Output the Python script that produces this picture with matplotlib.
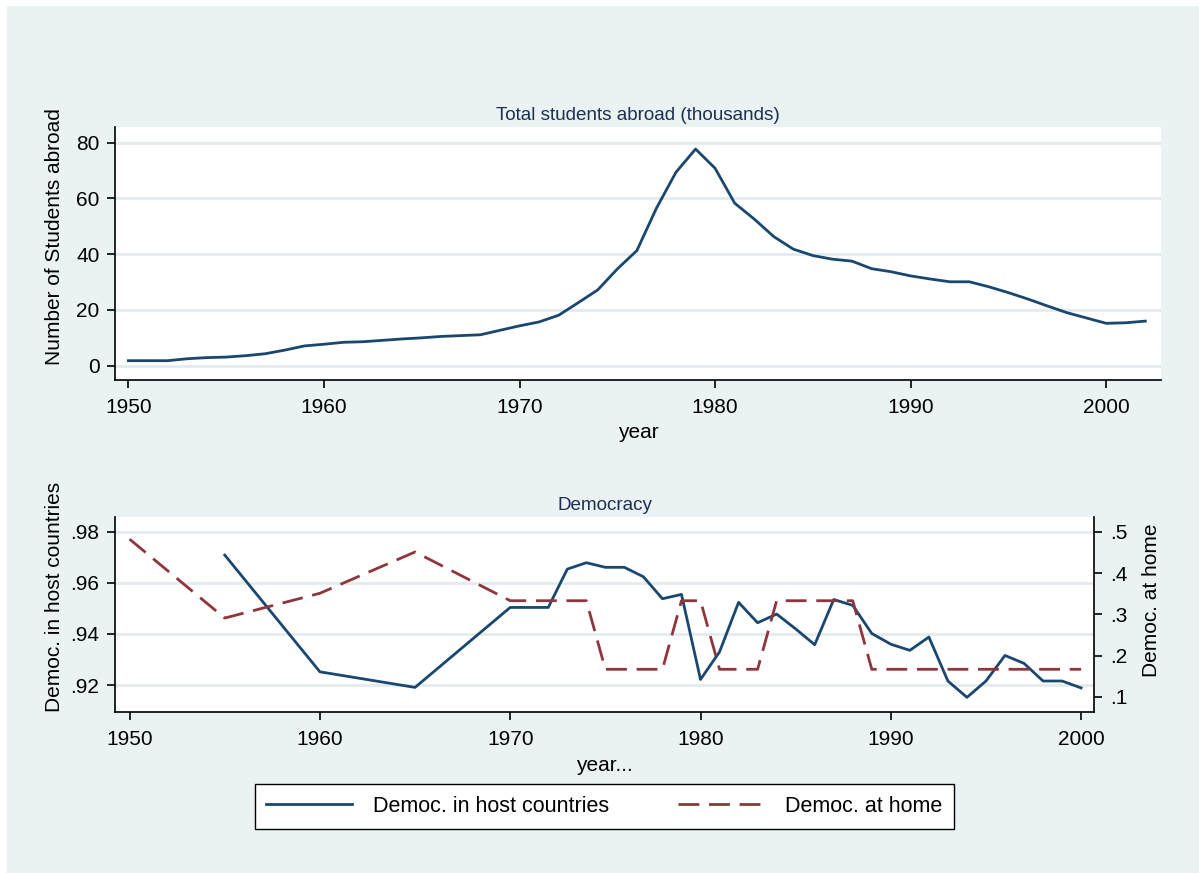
import numpy as np
import matplotlib.pyplot as plt
from matplotlib.patches import Rectangle
from matplotlib.lines import Line2D

plt.rcParams['font.family'] = ['Liberation Sans', 'DejaVu Sans']

# total students abroad (thousands), 1950-2002
years = list(range(1950, 2003))
students = [1.8, 1.8, 1.8, 2.5, 2.9, 3.1, 3.6, 4.3, 5.6, 7.1,
            7.7, 8.4, 8.6, 9.1, 9.6, 10.0, 10.5, 10.8, 11.1, 12.7,
            14.3, 15.7, 18.1, 22.6, 27.2, 34.7, 41.3, 56.5, 69.4, 77.7,
            70.8, 58.3, 52.6, 46.3, 41.8, 39.5, 38.2, 37.5, 34.8, 33.7,
            32.2, 31.1, 30.1, 30.1, 28.3, 26.2, 23.9, 21.4, 19.0, 17.1,
            15.2, 15.4, 16.0]

# democracy in host countries (left axis)
host_years = [1955, 1960, 1965, 1970, 1971, 1972, 1973, 1974, 1975, 1976,
              1977, 1978, 1979, 1980, 1981, 1982, 1983, 1984, 1985, 1986,
              1987, 1988, 1989, 1990, 1991, 1992, 1993, 1994, 1995, 1996,
              1997, 1998, 1999, 2000]
host = [.9709, .9252, .9191, .9504, .9504, .9504, .9654, .9679, .9661, .9661,
        .9624, .9538, .9555, .9222, .9330, .9524, .9444, .9478, .9420, .9358,
        .9535, .9512, .9402, .9360, .9336, .9388, .9216, .9152, .9216, .9316,
        .9285, .9216, .9216, .9189]

# democracy at home (right axis)
home_years = [1950, 1955, 1960, 1965, 1970, 1971, 1972, 1973, 1974, 1975,
              1976, 1977, 1978, 1979, 1980, 1981, 1982, 1983, 1984, 1985,
              1986, 1987, 1988, 1989, 1990, 1991, 1992, 1993, 1994, 1995,
              1996, 1997, 1998, 1999, 2000]
home = [.482, .291, .351, .451, .333, .333, .333, .333, .333, .167,
        .167, .167, .167, .333, .333, .167, .167, .167, .333, .333,
        .333, .333, .333, .167, .167, .167, .167, .167, .167, .167,
        .167, .167, .167, .167, .167]

blue = '#1a476f'
red = '#90353b'
bg = '#eaf2f3'
grid = '#e2ebee'
navy = '#1e2f50'
fs = 15

fig = plt.figure(figsize=(11.99, 8.73), dpi=100, facecolor='white')
fig.patches.append(Rectangle((7 / 1199, 0), 1, 1 - 6 / 873, transform=fig.transFigure,
                             facecolor=bg, edgecolor='none', zorder=-10))

# ---- top panel
ax1 = fig.add_axes([0.0957, 0.5647, 0.8726, 0.2898])
ax1.plot(years, students, color=blue, lw=2)
ax1.set_xlim(1949.3, 2002.8)
ax1.set_ylim(-5.13, 85.6)
ax1.set_xticks([1950, 1960, 1970, 1980, 1990, 2000])
ax1.set_yticks([0, 20, 40, 60, 80])
ax1.grid(axis='y', color=grid, lw=2)
ax1.set_axisbelow(True)
for s in ['top', 'right']:
    ax1.spines[s].set_visible(False)
for s in ['left', 'bottom']:
    ax1.spines[s].set_linewidth(1.2)
ax1.tick_params(labelsize=fs, length=6, width=1.2, pad=5)
ax1.tick_params(axis='x', pad=7)
ax1.set_ylabel('Number of Students abroad', fontsize=fs)
ax1.yaxis.set_label_coords(-0.0485, 0.569)
ax1.set_xlabel('year', fontsize=fs)
ax1.xaxis.set_label_coords(0.5, -0.17)
ax1.text(0.5, 1.047, 'Total students abroad (thousands)', transform=ax1.transAxes,
         ha='center', va='center', fontsize=13.6, color=navy)

# ---- bottom panel
ax2 = fig.add_axes([0.0957, 0.1848, 0.8171, 0.2233])
ax2.plot(host_years, host, color=blue, lw=2)
ax2.set_xlim(1949.22, 2000.7)
ax2.set_ylim(.9096, .9859)
ax2.set_xticks([1950, 1960, 1970, 1980, 1990, 2000])
ax2.set_yticks([.92, .94, .96, .98])
ax2.set_yticklabels(['.92', '.94', '.96', '.98'])
ax2.grid(axis='y', color=grid, lw=2)
ax2.set_axisbelow(True)
for s in ['top', 'right']:
    ax2.spines[s].set_visible(False)
for s in ['left', 'bottom']:
    ax2.spines[s].set_linewidth(1.2)
ax2.tick_params(labelsize=fs, length=6, width=1.2, pad=5)
ax2.tick_params(axis='x', pad=7)
ax2.set_ylabel('Democ. in host countries', fontsize=fs)
ax2.yaxis.set_label_coords(-0.0523, 0.588)
ax2.set_xlabel('year...', fontsize=fs)
ax2.xaxis.set_label_coords(0.5, -0.225)
ax2.text(0.5, 1.06, 'Democracy', transform=ax2.transAxes,
         ha='center', va='center', fontsize=13.6, color=navy)

ax3 = ax2.twinx()
ax3.plot(home_years, home, color=red, lw=2, dashes=(7.5, 3.5))
ax3.set_ylim(.0644, .5363)
ax3.set_yticks([.1, .2, .3, .4, .5])
ax3.set_yticklabels(['.1', '.2', '.3', '.4', '.5'])
for s in ['top', 'left', 'bottom']:
    ax3.spines[s].set_visible(False)
ax3.spines['right'].set_linewidth(1.2)
ax3.tick_params(labelsize=fs, length=6, width=1.2, pad=5)
ax3.set_ylabel('Democ. at home', fontsize=fs)
ax3.yaxis.set_label_coords(1.0485, 0.573)

handles = [Line2D([], [], color=blue, lw=2),
           Line2D([], [], color=red, lw=2, dashes=(7.5, 3.5))]
leg = fig.legend(handles, ['Democ. in host countries', 'Democ. at home'],
                 loc='center', bbox_to_anchor=(0.5038, 0.0762), ncol=2,
                 fontsize=15.5, fancybox=False, edgecolor='black', framealpha=1,
                 handlelength=4.0, handletextpad=0.95, columnspacing=3.2,
                 borderpad=0.55, borderaxespad=0.0)
leg.get_frame().set_linewidth(1.0)

fig.savefig('out.png', dpi=100, facecolor=fig.get_facecolor())
